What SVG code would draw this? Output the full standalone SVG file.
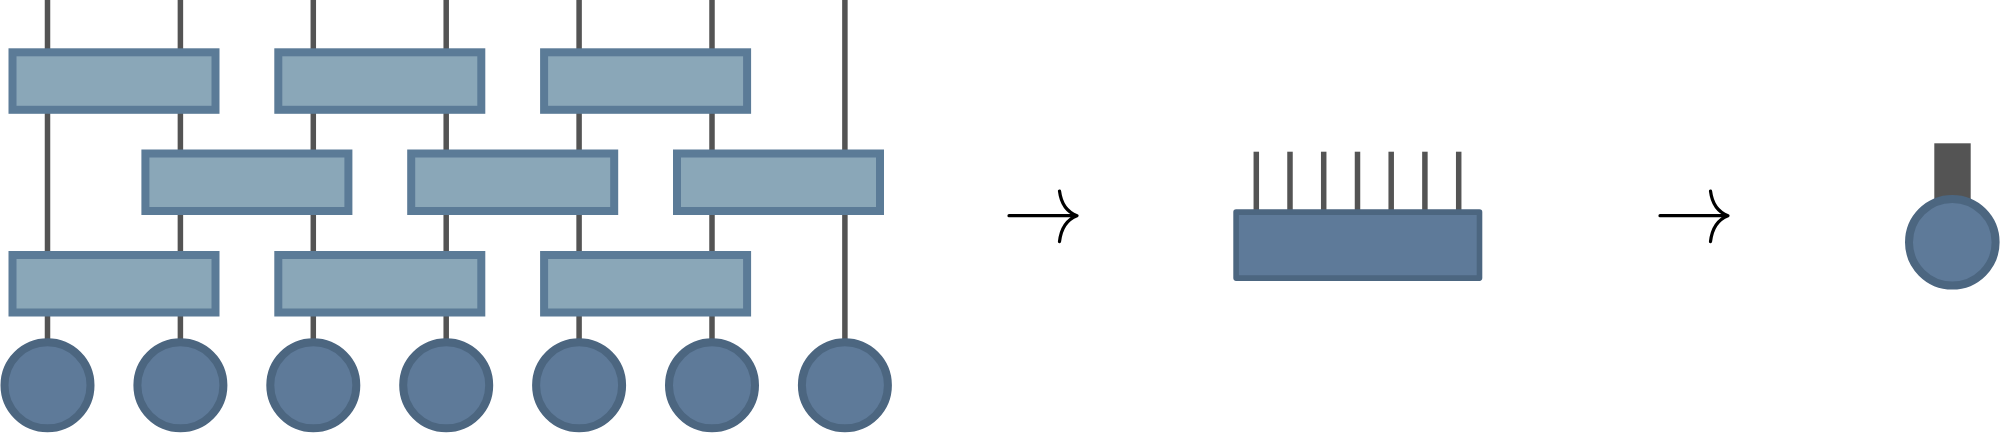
<svg xmlns="http://www.w3.org/2000/svg" width="2000" height="433" viewBox="0 0 2000 433">
<style>
.wire{stroke:#545454;stroke-width:5.5;fill:none}
.gate{fill:#8aa7b8;stroke:#5b7b97;stroke-width:8}
.site{fill:#5e7a99;stroke:#4c6680;stroke-width:8}
.big{fill:#5e7a99;stroke:#4c6680;stroke-width:5.6;stroke-linejoin:round}
.arr{stroke:#000;stroke-width:3.2;fill:none;stroke-linecap:round;stroke-linejoin:round}
</style>
<rect width="2000" height="433" fill="#fff"/>
<g id="connectors">
<line class="wire" x1="47.5" y1="0" x2="47.5" y2="385"/>
<line class="wire" x1="180.4" y1="0" x2="180.4" y2="385"/>
<line class="wire" x1="313.3" y1="0" x2="313.3" y2="385"/>
<line class="wire" x1="446.2" y1="0" x2="446.2" y2="385"/>
<line class="wire" x1="579.1" y1="0" x2="579.1" y2="385"/>
<line class="wire" x1="712" y1="0" x2="712" y2="385"/>
<line class="wire" x1="844.9" y1="0" x2="844.9" y2="385"/>
<line class="wire" x1="1256.3" y1="151.7" x2="1256.3" y2="212"/>
<line class="wire" x1="1290" y1="151.7" x2="1290" y2="212"/>
<line class="wire" x1="1323.7" y1="151.7" x2="1323.7" y2="212"/>
<line class="wire" x1="1357.5" y1="151.7" x2="1357.5" y2="212"/>
<line class="wire" x1="1391.2" y1="151.7" x2="1391.2" y2="212"/>
<line class="wire" x1="1424.9" y1="151.7" x2="1424.9" y2="212"/>
<line class="wire" x1="1458.7" y1="151.7" x2="1458.7" y2="212"/>
<rect x="1934.3" y="143.3" width="36.4" height="60" fill="#545454"/>
</g>
<g id="arrow1">
<path class="arr" d="M1009,215.7 H1076.5 M1059.5,191 C1061,203 1067,212 1077,215.7 C1067,219.5 1061,228 1059.5,241.7"/>
</g>
<g id="arrow2" transform="translate(651,0)">
<path class="arr" d="M1009,215.7 H1076.5 M1059.5,191 C1061,203 1067,212 1077,215.7 C1067,219.5 1061,228 1059.5,241.7"/>
</g>
<g id="gate-r1-1"><rect class="gate" x="12.5" y="52.3" width="203" height="57.5"/></g>
<g id="gate-r1-2"><rect class="gate" x="278.3" y="52.3" width="203" height="57.5"/></g>
<g id="gate-r1-3"><rect class="gate" x="544.1" y="52.3" width="203" height="57.5"/></g>
<g id="gate-r2-1"><rect class="gate" x="145.4" y="153.5" width="203" height="57.5"/></g>
<g id="gate-r2-2"><rect class="gate" x="411.2" y="153.5" width="203" height="57.5"/></g>
<g id="gate-r2-3"><rect class="gate" x="677" y="153.5" width="203" height="57.5"/></g>
<g id="gate-r3-1"><rect class="gate" x="12.5" y="255" width="203" height="57.5"/></g>
<g id="gate-r3-2"><rect class="gate" x="278.3" y="255" width="203" height="57.5"/></g>
<g id="gate-r3-3"><rect class="gate" x="544.1" y="255" width="203" height="57.5"/></g>
<g id="site-1"><circle class="site" cx="47.5" cy="385.3" r="43"/></g>
<g id="site-2"><circle class="site" cx="180.4" cy="385.3" r="43"/></g>
<g id="site-3"><circle class="site" cx="313.3" cy="385.3" r="43"/></g>
<g id="site-4"><circle class="site" cx="446.2" cy="385.3" r="43"/></g>
<g id="site-5"><circle class="site" cx="579.1" cy="385.3" r="43"/></g>
<g id="site-6"><circle class="site" cx="712" cy="385.3" r="43"/></g>
<g id="site-7"><circle class="site" cx="844.9" cy="385.3" r="43"/></g>
<g id="mps-block"><rect class="big" x="1236.1" y="212.1" width="243.4" height="66"/></g>
<g id="single-site"><circle class="site" cx="1952.3" cy="242.2" r="43.3"/></g>
</svg>
